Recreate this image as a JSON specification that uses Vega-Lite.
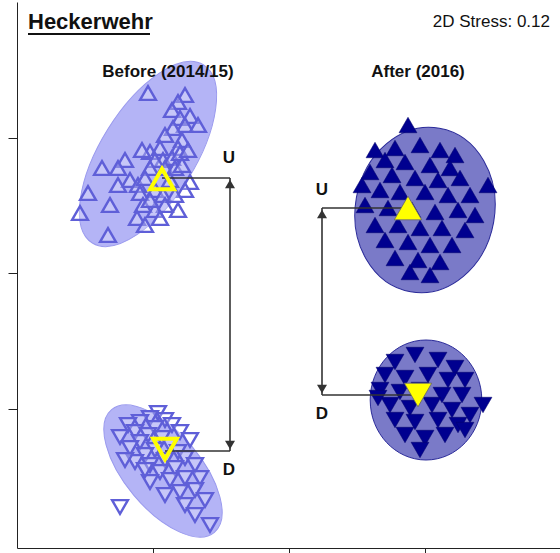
{
"$schema":"https://vega.github.io/schema/vega-lite/v6.json",
"width":543,"height":546,"autosize":{"type":"none"},
"padding":{"left":17,"top":2,"right":0,"bottom":5},
"background":"white",
"config":{"view":{"stroke":null},"font":"Liberation Sans"},
"datasets":{
"bu":[[148,93],[185,95],[178,102],[172,110],[180,118],[190,116],[185,125],[198,125],[173,128],[165,135],[182,140],[178,148],[150,152],[160,148],[142,150],[163,160],[172,158],[180,153],[188,150],[155,160],[125,160],[118,168],[102,168],[150,168],[165,168],[175,168],[182,165],[130,180],[118,185],[138,185],[145,178],[170,180],[190,182],[155,190],[163,195],[140,193],[165,205],[178,210],[88,193],[110,205],[143,205],[155,210],[160,218],[137,218],[145,225],[80,213],[108,235],[185,190],[175,195],[150,200]],
"bd":[[158,413],[150,418],[165,420],[140,422],[172,425],[128,425],[155,428],[135,432],[180,432],[148,435],[162,438],[120,437],[190,440],[140,442],[170,445],[130,448],[155,450],[178,452],[145,455],[185,458],[165,460],[135,462],[195,465],[150,465],[175,468],[160,472],[200,478],[185,478],[170,480],[150,482],[195,490],[180,492],[165,495],[205,500],[185,505],[120,507],[195,515],[210,525],[145,470],[125,460]],
"au":[[408,125],[375,150],[395,148],[420,145],[440,150],[455,155],[385,160],[405,162],[430,165],[450,168],[370,172],[392,175],[415,178],[438,180],[460,178],[488,185],[380,190],[400,192],[425,192],[448,195],[470,195],[365,205],[388,208],[412,210],[435,212],[458,210],[375,225],[398,225],[420,228],[442,228],[465,230],[385,240],[408,242],[430,245],[452,245],[395,258],[418,260],[440,262],[410,272],[430,275],[362,185],[475,215]],
"ad":[[415,355],[395,362],[438,360],[455,368],[385,375],[405,378],[428,375],[448,380],[465,380],[380,390],[400,392],[420,390],[442,395],[462,395],[390,405],[410,408],[432,405],[452,410],[483,405],[395,420],[415,422],[438,420],[458,425],[405,435],[425,438],[445,435],[420,450],[465,430],[378,398],[470,415]]
},
"encoding":{
"x":{"type":"quantitative","scale":{"domain":[17,560],"nice":false,"zero":false},"axis":{"values":[153,289,425],"labels":false,"title":null,"grid":false,"domainColor":"#222","tickColor":"#222","tickSize":8}},
"y":{"type":"quantitative","scale":{"domain":[548,2],"nice":false,"zero":false},"axis":{"values":[138,273,409],"labels":false,"title":null,"grid":false,"domainColor":"#222","tickColor":"#222","tickSize":9}}
},
"layer":[
{"data":{"values":[{"x":148,"y":154}]},"mark":{"type":"point","shape":"M0,-1A0.45,1 0 1,1 0,1A0.45,1 0 1,1 0,-1Z","size":44100,"angle":32,"filled":true,"fill":"#b4b4f6","fillOpacity":1,"stroke":"#9a9aee","strokeWidth":1},"encoding":{"x":{"field":"x"},"y":{"field":"y"}}},
{"data":{"values":[{"x":163,"y":471}]},"mark":{"type":"point","shape":"M0,-1A0.475,1 0 1,1 0,1A0.475,1 0 1,1 0,-1Z","size":25600,"angle":320,"filled":true,"fill":"#b4b4f6","fillOpacity":1,"stroke":"#9a9aee","strokeWidth":1},"encoding":{"x":{"field":"x"},"y":{"field":"y"}}},
{"data":{"values":[{"x":425,"y":210}]},"mark":{"type":"point","shape":"M0,-1A0.84,1 0 1,1 0,1A0.84,1 0 1,1 0,-1Z","size":27556,"angle":10,"filled":true,"fill":"#7a7ac8","fillOpacity":1,"stroke":"#2a2a99","strokeWidth":1},"encoding":{"x":{"field":"x"},"y":{"field":"y"}}},
{"data":{"values":[{"x":426,"y":400}]},"mark":{"type":"point","shape":"M0,-1A0.93,1 0 1,1 0,1A0.93,1 0 1,1 0,-1Z","size":14400,"angle":0,"filled":true,"fill":"#7a7ac8","fillOpacity":1,"stroke":"#2a2a99","strokeWidth":1},"encoding":{"x":{"field":"x"},"y":{"field":"y"}}},
{"data":{"name":"bu"},"mark":{"type":"point","shape":"triangle-up","size":250,"filled":false,"fill":"white","fillOpacity":0.25,"stroke":"#5f5fd8","strokeWidth":2.4,"opacity":1},"encoding":{"x":{"field":"0"},"y":{"field":"1"}}},
{"data":{"name":"bd"},"mark":{"type":"point","shape":"triangle-down","size":250,"filled":false,"fill":"white","fillOpacity":0.25,"stroke":"#5f5fd8","strokeWidth":2.4,"opacity":1},"encoding":{"x":{"field":"0"},"y":{"field":"1"}}},
{"data":{"name":"au"},"mark":{"type":"point","shape":"triangle-up","size":320,"filled":true,"fill":"#00008f","opacity":1,"stroke":"#00006a","strokeWidth":0.5},"encoding":{"x":{"field":"0"},"y":{"field":"1"}}},
{"data":{"name":"ad"},"mark":{"type":"point","shape":"triangle-down","size":320,"filled":true,"fill":"#00008f","opacity":1,"stroke":"#00006a","strokeWidth":0.5},"encoding":{"x":{"field":"0"},"y":{"field":"1"}}},
{"data":{"values":[{"x":162,"y":178,"x2":230,"y2":178},{"x":230,"y":178,"x2":230,"y2":451},{"x":165,"y":451,"x2":230,"y2":451},{"x":322,"y":208,"x2":408,"y2":208},{"x":322,"y":208,"x2":322,"y2":395},{"x":322,"y":395,"x2":418,"y2":395}]},"mark":{"type":"rule","color":"#333","strokeWidth":1.6},"encoding":{"x":{"field":"x"},"y":{"field":"y"},"x2":{"field":"x2"},"y2":{"field":"y2"}}},
{"data":{"values":[{"x":230,"y":184},{"x":322,"y":214}]},"mark":{"type":"point","shape":"triangle-up","size":100,"filled":true,"fill":"#333","opacity":1},"encoding":{"x":{"field":"x"},"y":{"field":"y"}}},
{"data":{"values":[{"x":230,"y":445},{"x":322,"y":389}]},"mark":{"type":"point","shape":"triangle-down","size":100,"filled":true,"fill":"#333","opacity":1},"encoding":{"x":{"field":"x"},"y":{"field":"y"}}},
{"data":{"values":[{"x":162,"y":179}]},"mark":{"type":"point","shape":"triangle-up","size":560,"filled":false,"stroke":"#ffff00","strokeWidth":4,"opacity":1},"encoding":{"x":{"field":"x"},"y":{"field":"y"}}},
{"data":{"values":[{"x":165,"y":449}]},"mark":{"type":"point","shape":"triangle-down","size":560,"filled":false,"stroke":"#ffff00","strokeWidth":4,"opacity":1},"encoding":{"x":{"field":"x"},"y":{"field":"y"}}},
{"data":{"values":[{"x":408,"y":208}]},"mark":{"type":"point","shape":"triangle-up","size":750,"filled":true,"fill":"#ffff00","stroke":"#666","strokeWidth":0.8,"opacity":1},"encoding":{"x":{"field":"x"},"y":{"field":"y"}}},
{"data":{"values":[{"x":418,"y":395}]},"mark":{"type":"point","shape":"triangle-down","size":750,"filled":true,"fill":"#ffff00","stroke":"#666","strokeWidth":0.8,"opacity":1},"encoding":{"x":{"field":"x"},"y":{"field":"y"}}},
{"data":{"values":[{"x":28,"y":34,"x2":150,"y2":34}]},"mark":{"type":"rule","color":"#111","strokeWidth":2},"encoding":{"x":{"field":"x"},"y":{"field":"y"},"x2":{"field":"x2"},"y2":{"field":"y2"}}},
{"data":{"values":[{"x":28,"y":22,"t":"Heckerwehr"}]},"mark":{"type":"text","fontSize":22,"fontWeight":"bold","align":"left","baseline":"middle","color":"#111"},"encoding":{"x":{"field":"x"},"y":{"field":"y"},"text":{"field":"t"}}},
{"data":{"values":[{"x":550,"y":22,"t":"2D Stress: 0.12"}]},"mark":{"type":"text","fontSize":17,"align":"right","baseline":"middle","color":"#111"},"encoding":{"x":{"field":"x"},"y":{"field":"y"},"text":{"field":"t"}}},
{"data":{"values":[{"x":168,"y":72,"t":"Before (2014/15)"},{"x":418,"y":72,"t":"After (2016)"},{"x":229,"y":158,"t":"U"},{"x":229,"y":470,"t":"D"},{"x":322,"y":190,"t":"U"},{"x":322,"y":414,"t":"D"}]},"mark":{"type":"text","fontSize":17,"fontWeight":"bold","align":"center","baseline":"middle","color":"#111"},"encoding":{"x":{"field":"x"},"y":{"field":"y"},"text":{"field":"t"}}}
]
}
